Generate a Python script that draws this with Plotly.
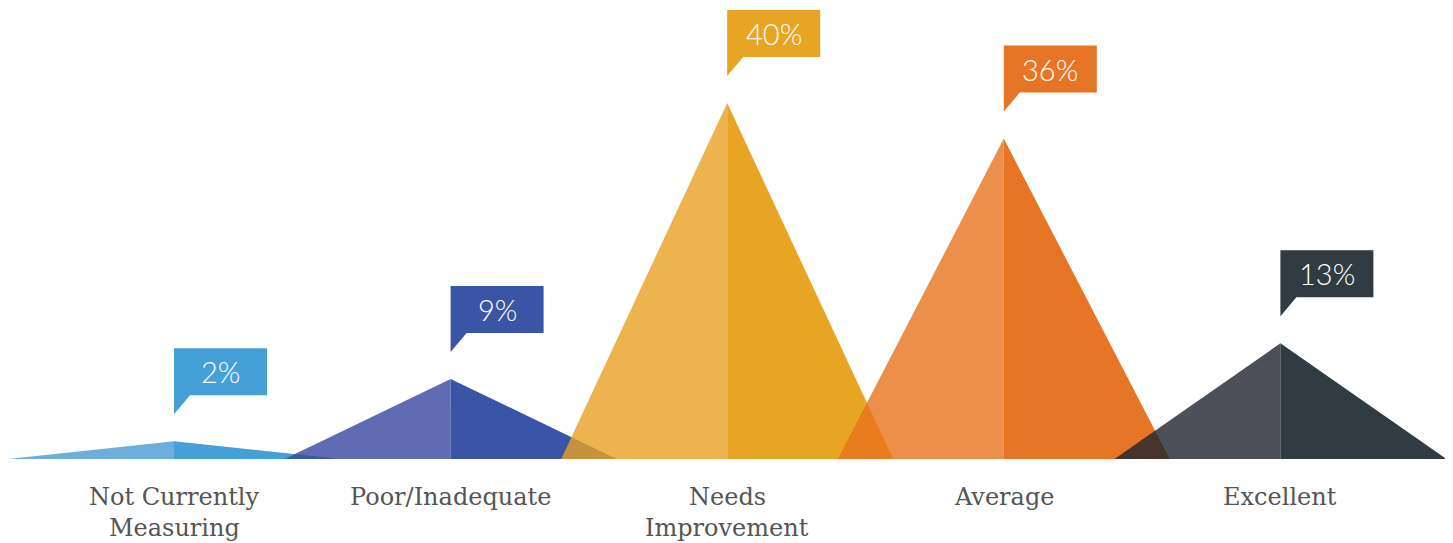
import plotly.graph_objects as go

categories = ["Not Currently<br>Measuring", "Poor/Inadequate", "Needs<br>Improvement", "Average", "Excellent"]
values = [2, 9, 40, 36, 13]
left_colors = ["rgba(74,154,213,0.8)", "rgba(55,70,159,0.8)", "rgba(233,160,35,0.8)",
               "rgba(231,115,29,0.8)", "rgba(31,38,48,0.8)"]
right_colors = ["#45A0D8", "#3A54A6", "#E8A423", "#E67626", "#313B42"]

OFF = 8                      # default page body margin
W, H = 1453 - OFF, 543 - OFF
PX_X = 276.6                 # pixels per category step
PX_Y = 8.9                   # pixels per percent
FIRST_PX = 174 - OFF
BASE_PY = 459 - OFF
X0 = -FIRST_PX / PX_X
X1 = (W - FIRST_PX) / PX_X
Y0 = -(H - BASE_PY) / PX_Y
Y1 = BASE_PY / PX_Y
HALF = 0.6

fig = go.Figure()
shapes = []
annotations = []
for i, (cat, v) in enumerate(zip(categories, values)):
    fig.add_trace(go.Scatter(x=[i - HALF, i, i, i - HALF], y=[0, v, 0, 0], fill="toself",
                             fillcolor=left_colors[i], line=dict(width=0), mode="lines",
                             hoverinfo="skip", showlegend=False))
    fig.add_trace(go.Scatter(x=[i, i, i + HALF, i], y=[0, v, 0, 0], fill="toself",
                             fillcolor=right_colors[i], line=dict(width=0), mode="lines",
                             hoverinfo="skip", showlegend=False))
    # callout box
    w = 93 / PX_X
    tw = 16 / PX_X
    yb = v + 46 / PX_Y
    yt = v + 93 / PX_Y
    ytip = v + 27 / PX_Y
    path = f"M {i},{yt} L {i + w},{yt} L {i + w},{yb} L {i + tw},{yb} L {i},{ytip} Z"
    shapes.append(dict(type="path", path=path, xref="x", yref="y",
                       fillcolor=right_colors[i], line=dict(width=0), layer="above"))
    annotations.append(dict(x=i + w / 2, y=(yb + yt) / 2, xref="x", yref="y",
                            text=f"{v}%", showarrow=False, xanchor="center", yanchor="middle",
                            font=dict(family="Lato", size=29, color="white", weight=300)))
    for k, line in enumerate(cat.split("<br>")):
        py = 497 - OFF + 31 * k
        annotations.append(dict(x=i, y=(BASE_PY - py) / PX_Y, xref="x", yref="y",
                                text=line, showarrow=False, xanchor="center", yanchor="middle",
                                font=dict(family="DejaVu Serif", size=24, color="#555555")))

fig.update_layout(
    width=W, height=H, margin=dict(l=0, r=0, t=0, b=0),
    paper_bgcolor="white", plot_bgcolor="white",
    xaxis=dict(range=[X0, X1], visible=False, fixedrange=True),
    yaxis=dict(range=[Y0, Y1], visible=False, fixedrange=True),
    shapes=shapes, annotations=annotations, showlegend=False,
)
fig.write_html("out.html")
